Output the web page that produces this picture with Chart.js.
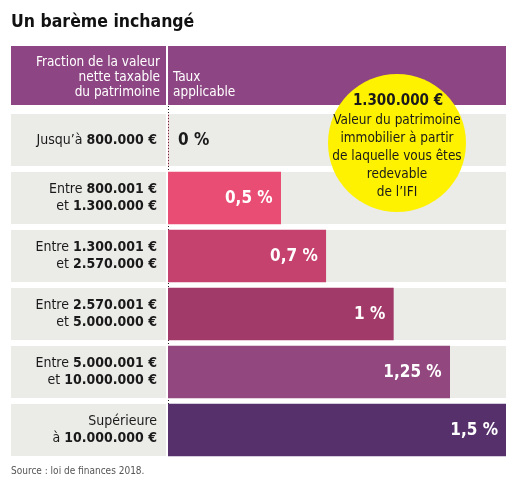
<!DOCTYPE html>
<html>
<head>
<meta charset="utf-8">
<script src="https://cdn.jsdelivr.net/npm/chart.js@4"></script>
<style>
  html, body { margin: 0; padding: 0; background: #fff; }
  #wrap { position: relative; width: 517px; height: 489px; }
</style>
</head>
<body>
<div id="wrap"><canvas id="ifi-chart" width="517" height="489"></canvas></div>
<script>
// Tranches of the IFI scale (bold parts between **)
const categories = [
    ['Jusqu’à **800.000 €**'],
    ['Entre **800.001 €**', 'et **1.300.000 €**'],
    ['Entre **1.300.001 €**', 'et **2.570.000 €**'],
    ['Entre **2.570.001 €**', 'et **5.000.000 €**'],
    ['Entre **5.000.001 €**', 'et **10.000.000 €**'],
    ['Supérieure', 'à **10.000.000 €**']
];
const rates = [0, 0.5, 0.7, 1, 1.25, 1.5];
const rateLabels = ['0 %', '0,5 %', '0,7 %', '1 %', '1,25 %', '1,5 %'];

const title = 'Un barème inchangé';
const headerLeft = ['Fraction de la valeur', 'nette taxable', 'du patrimoine'];
const headerRight = ['Taux', 'applicable'];
const bubbleTitle = '1.300.000 €';
const bubbleLines = ['Valeur du patrimoine', 'immobilier à partir', 'de laquelle vous êtes', 'redevable', 'de l’IFI'];
const source = 'Source : loi de finances 2018.';

const barColors = ['#e84c72', '#e94d73', '#c5426e', '#a23a69', '#93477f', '#55306b'];
const FONT = '"DejaVu Sans Condensed", "Liberation Sans Narrow", sans-serif';

// draw a line where **text** is bold, anchored on its right edge
const drawMixed = (ctx, line, xRight, y, size) => {
    const parts = line.split('**').map((t, i) => ({ t, bold: i % 2 === 1 })).filter(p => p.t);
    let total = 0;
    parts.forEach(p => {
        ctx.font = (p.bold ? 'bold ' : '') + size + 'px ' + FONT;
        p.w = ctx.measureText(p.t).width;
        total += p.w;
    });
    let x = xRight - total;
    ctx.textAlign = 'left';
    parts.forEach(p => {
        ctx.font = (p.bold ? 'bold ' : '') + size + 'px ' + FONT;
        ctx.fillText(p.t, x, y);
        x += p.w;
    });
};

const tablePlugin = {
    id: 'table',
    beforeDatasetsDraw(chart) {
        const { ctx, chartArea, scales: { y } } = chart;
        const left = 11, split = 166;
        ctx.save();
        ctx.fillStyle = '#fff';
        ctx.fillRect(0, 0, chart.width, chart.height);

        // title
        ctx.fillStyle = '#111';
        ctx.font = 'bold 17.5px ' + FONT;
        ctx.textBaseline = 'middle';
        ctx.textAlign = 'left';
        ctx.fillText(title, left, 22);

        // header band
        ctx.fillStyle = '#8d4683';
        ctx.fillRect(left, 46, split - left, 59);
        ctx.fillRect(split + 2, 46, chartArea.right - split - 2, 59);
        ctx.fillStyle = '#fff';
        ctx.font = '13.5px ' + FONT;
        ctx.textAlign = 'right';
        headerLeft.forEach((t, i) => ctx.fillText(t, 160, 62 + i * 15));
        ctx.textAlign = 'left';
        headerRight.forEach((t, i) => ctx.fillText(t, 173, 77 + i * 15));

        // row backgrounds and labels
        const rowH = 52;
        categories.forEach((lines, i) => {
            const cy = y.getPixelForValue(i);
            ctx.fillStyle = '#ebebe8';
            ctx.fillRect(left, cy - rowH / 2, split - left, rowH);
            ctx.fillRect(split + 2, cy - rowH / 2, chartArea.right - split - 2, rowH);
            ctx.fillStyle = '#1a1a1a';
            const off = (lines.length - 1) * 8.5;
            lines.forEach((l, k) => drawMixed(ctx, l, 157, cy - off + k * 17, 14));
        });

        // dotted zero line
        ctx.strokeStyle = '#222';
        ctx.lineWidth = 1;
        ctx.setLineDash([1, 2]);
        ctx.beginPath();
        ctx.moveTo(chartArea.left + 0.5, 106);
        ctx.lineTo(chartArea.left + 0.5, chartArea.bottom - 4);
        ctx.stroke();
        ctx.restore();
    },
    afterDatasetsDraw(chart) {
        const { ctx, scales: { x, y } } = chart;
        ctx.save();
        ctx.textBaseline = 'middle';
        ctx.font = 'bold 17px ' + FONT;
        rates.forEach((v, i) => {
            const cy = y.getPixelForValue(i);
            if (v === 0) {
                ctx.fillStyle = '#1a1a1a';
                ctx.textAlign = 'left';
                ctx.fillText(rateLabels[i], x.getPixelForValue(0) + 10, cy + 1);
            } else {
                ctx.fillStyle = '#fff';
                ctx.textAlign = 'right';
                ctx.fillText(rateLabels[i], x.getPixelForValue(v) - 8, cy + 1);
            }
        });

        // yellow bubble
        ctx.fillStyle = '#fff200';
        ctx.beginPath();
        ctx.arc(397, 143, 69, 0, Math.PI * 2);
        ctx.fill();
        ctx.fillStyle = '#1a1a1a';
        ctx.textAlign = 'center';
        ctx.font = 'bold 15px ' + FONT;
        ctx.fillText(bubbleTitle, 398, 101);
        ctx.font = '13.5px ' + FONT;
        bubbleLines.forEach((t, i) => ctx.fillText(t, 397, 120 + i * 18));

        // source
        ctx.fillStyle = '#555';
        ctx.textAlign = 'left';
        ctx.font = '10px ' + FONT;
        ctx.fillText(source, 11, 471);
        ctx.restore();
    }
};

const displayChart = () => {
    const ctx = document.getElementById('ifi-chart').getContext('2d');
    new Chart(ctx, {
        type: 'bar',
        data: {
            labels: categories.map(l => l.join(' ').replace(/\*\*/g, '')),
            datasets: [{
                data: rates,
                backgroundColor: barColors,
                barThickness: 52,
                borderWidth: 0
            }]
        },
        options: {
            indexAxis: 'y',
            responsive: false,
            animation: false,
            layout: { padding: { left: 168, right: 11, top: 111, bottom: 30 } },
            plugins: { legend: { display: false }, tooltip: { enabled: false } },
            scales: {
                x: { min: 0, max: 1.5, display: false },
                y: { display: false, offset: true }
            }
        },
        plugins: [tablePlugin]
    });
};

window.onload = displayChart;
</script>
</body>
</html>
